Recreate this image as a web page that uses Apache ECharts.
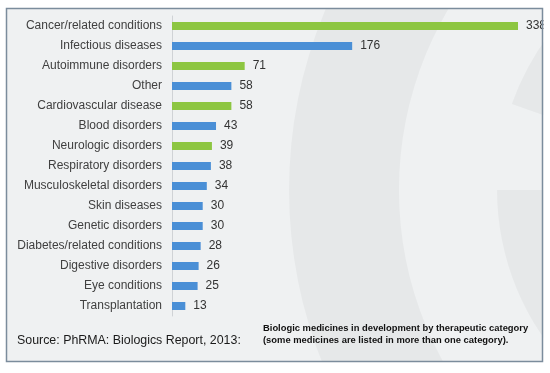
<!DOCTYPE html>
<html><head><meta charset="utf-8">
<script src="https://cdn.jsdelivr.net/npm/echarts@6/dist/echarts.min.js"></script>
<style>html,body{margin:0;padding:0;background:#fff}#c{width:550px;height:373px}</style>
</head><body><div id="c"></div>
<script>
const categories = ["Cancer/related conditions","Infectious diseases","Autoimmune disorders","Other","Cardiovascular disease","Blood disorders","Neurologic disorders","Respiratory disorders","Musculoskeletal disorders","Skin diseases","Genetic disorders","Diabetes/related conditions","Digestive disorders","Eye conditions","Transplantation"];
const values = [338,176,71,58,58,43,39,38,34,30,30,28,26,25,13];
const highlighted = [true,false,true,false,true,false,true,false,false,false,false,false,false,false,false];
const sourceText = "Source: PhRMA: Biologics Report, 2013:";
const captionLines = ["Biologic medicines in development by therapeutic category","(some medicines are listed in more than one category)."];

const GREEN = '#8dc641', BLUE = '#4a8fd6';
const BAND = 'rgba(0,0,0,0.035)';
const chart = echarts.init(document.getElementById('c'), null, {renderer:'canvas'});
chart.setOption({
  animation:false,
  backgroundColor:'#ffffff',
  graphic:[
    {type:'rect', shape:{x:6.5,y:8.5,width:536,height:353}, style:{fill:'#eff1f2'}, z:-10},
    {type:'sector', shape:{cx:755,cy:190,r0:356,r:466,startAngle:Math.PI*0.5,endAngle:Math.PI*1.5}, style:{fill:BAND}, z:-9},
    {type:'sector', shape:{cx:755,cy:190,r0:205,r:258,startAngle:Math.PI*0.5,endAngle:Math.PI}, style:{fill:BAND}, z:-9},
    {type:'sector', shape:{cx:755,cy:190,r0:205,r:258,startAngle:Math.PI+0.34,endAngle:Math.PI*1.5}, style:{fill:BAND}, z:-9},
    {type:'rect', shape:{x:0,y:0,width:550,height:8}, style:{fill:'#fff'}, z:-8},
    {type:'rect', shape:{x:0,y:362,width:550,height:11}, style:{fill:'#fff'}, z:-8},
    {type:'rect', shape:{x:0,y:0,width:6,height:373}, style:{fill:'#fff'}, z:-8},
    {type:'rect', shape:{x:543.5,y:0,width:7,height:373}, style:{fill:'#fff'}, z:100},
    {type:'rect', shape:{x:6.5,y:8.5,width:536,height:353}, style:{fill:null, stroke:'#7b8c9c', lineWidth:1.5}, z:101},
    {type:'text', left:17, top:335, style:{text:sourceText, font:'12.4px "Liberation Sans", Arial, sans-serif', fill:'#1a1a1a'}, z:10},
    {type:'text', left:263, top:322, style:{text:captionLines.join('\n'), font:'bold 9.4px "Liberation Sans", Arial, sans-serif', lineHeight:12, fill:'#111'}, z:10}
  ],
  grid:{left:172, top:16, width:358.3, height:300, containLabel:false},
  xAxis:{type:'value', min:0, max:350, show:false},
  yAxis:{type:'category', data:categories, inverse:true,
    axisLine:{show:true, lineStyle:{color:'#d0d3d6', width:1}},
    axisTick:{show:false},
    axisLabel:{margin:10, color:'#404040', fontSize:12, fontFamily:'"Liberation Sans", Arial, sans-serif'}
  },
  series:[{
    type:'bar', barWidth:8,
    data: values.map((v,i)=>({value:v, itemStyle:{color: highlighted[i]?GREEN:BLUE}})),
    label:{show:true, position:'right', distance:8, color:'#333', fontSize:12, fontFamily:'"Liberation Sans", Arial, sans-serif'}
  }]
});
</script></body></html>
